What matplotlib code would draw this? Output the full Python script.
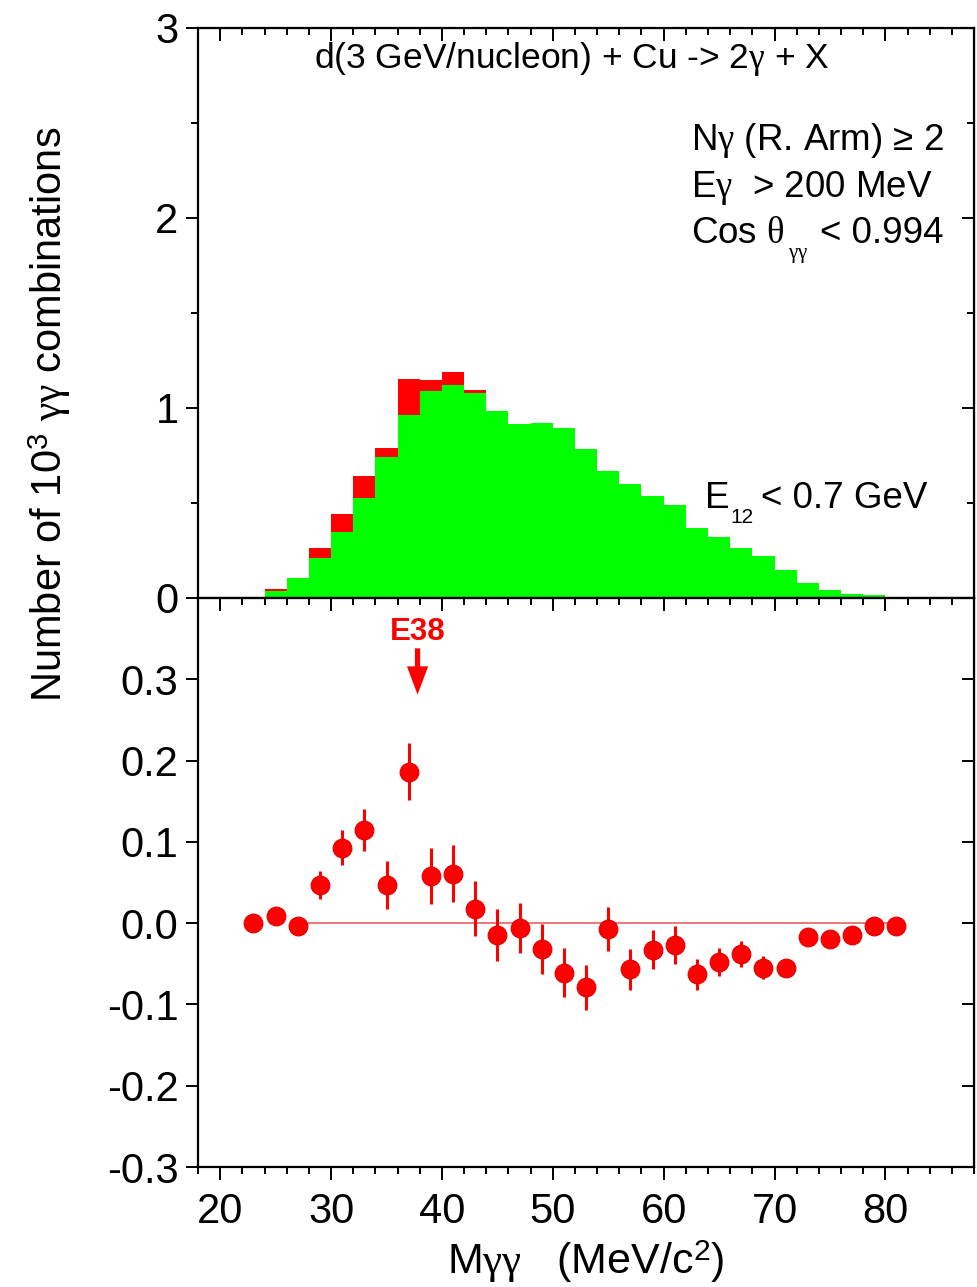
import numpy as np
import matplotlib
matplotlib.use("Agg")
import matplotlib.pyplot as plt
from matplotlib.ticker import MultipleLocator, FixedLocator

plt.rcParams['font.family'] = ['Liberation Sans', 'DejaVu Sans']
plt.rcParams['mathtext.fontset'] = 'custom'
plt.rcParams['mathtext.rm'] = 'Liberation Sans'
plt.rcParams['mathtext.it'] = 'Liberation Serif'
plt.rcParams['mathtext.bf'] = 'Liberation Sans:bold'

# mass bins (MeV/c^2), 2 MeV wide, centres at odd values
mass = np.arange(23, 83, 2)
bin_w = 2.0

# top panel, 10^3 combinations: all pairs (red) and mixed background (green)
total = [0.005, 0.047, 0.105, 0.263, 0.444, 0.644, 0.789, 1.154, 1.149, 1.188,
         1.096, 0.968, 0.908, 0.888, 0.833, 0.706, 0.659, 0.541, 0.504, 0.464,
         0.307, 0.275, 0.223, 0.168, 0.092, 0.060, 0.023, 0.005, 0.011, 0.002]
backgr = [0.002, 0.039, 0.105, 0.210, 0.347, 0.526, 0.740, 0.965, 1.088, 1.123,
          1.079, 0.982, 0.914, 0.920, 0.894, 0.785, 0.666, 0.598, 0.537, 0.491,
          0.370, 0.323, 0.261, 0.223, 0.147, 0.077, 0.042, 0.019, 0.014, 0.004]

# bottom panel: difference and its error
diff = [0.000, 0.009, -0.003, 0.047, 0.093, 0.115, 0.047, 0.186, 0.058, 0.061,
        0.018, -0.014, -0.006, -0.032, -0.061, -0.079, -0.007, -0.057, -0.033, -0.027,
        -0.063, -0.048, -0.038, -0.055, -0.055, -0.017, -0.019, -0.014, -0.003, -0.003]
diff_err = [0.006, 0.006, 0.006, 0.017, 0.022, 0.026, 0.029, 0.035, 0.035, 0.035,
            0.034, 0.032, 0.031, 0.031, 0.030, 0.028, 0.027, 0.025, 0.024, 0.023,
            0.019, 0.017, 0.016, 0.014, 0.008, 0.006, 0.006, 0.005, 0.004, 0.003]

x_ticks = [20, 30, 40, 50, 60, 70, 80]
low_yticks = [-0.3, -0.2, -0.1, 0.0, 0.1, 0.2, 0.3]
low_ylabels = ['-0.3', '-0.2', '-0.1', '0.0', '0.1', '0.2', '0.3']

TICK_FS = 30
LAB_FS = 30
TXT_FS = 26.5
SUB_FS = 15

fig = plt.figure(figsize=(9.78, 12.87), dpi=100)
ax1 = fig.add_axes([0.2025, 0.5354, 0.7935, 0.4429])
ax2 = fig.add_axes([0.2025, 0.0932, 0.7935, 0.4422])


def style(ax, ymaj, ymin, show_bottom_labels):
    for s in ax.spines.values():
        s.set_linewidth(1.6)
    ax.set_xlim(18, 88)
    ax.xaxis.set_major_locator(FixedLocator(x_ticks))
    ax.xaxis.set_minor_locator(MultipleLocator(2))
    ax.tick_params(axis='both', which='both', direction='out', top=False, right=False,
                   labelsize=TICK_FS, width=1.4)
    ax.tick_params(which='major', length=9, pad=5)
    ax.tick_params(which='minor', length=5)
    ax.tick_params(axis='x', labelbottom=show_bottom_labels, pad=9)
    top = ax.secondary_xaxis('top')
    top.xaxis.set_major_locator(FixedLocator(x_ticks))
    top.xaxis.set_minor_locator(MultipleLocator(2))
    top.tick_params(which='both', direction='in', labeltop=False, width=1.4)
    top.tick_params(which='major', length=9)
    top.tick_params(which='minor', length=5)
    right = ax.secondary_yaxis('right')
    right.yaxis.set_major_locator(ymaj)
    if ymin is not None:
        right.yaxis.set_minor_locator(ymin)
    right.tick_params(which='both', direction='in', labelright=False, width=1.4)
    right.tick_params(which='major', length=9)
    right.tick_params(which='minor', length=5)


# ---- top panel
ax1.bar(mass, total, width=bin_w, color='#ff0000', linewidth=0)
ax1.bar(mass, backgr, width=bin_w, color='#00ff00', linewidth=0)
ax1.set_ylim(0, 3)
ax1.yaxis.set_major_locator(MultipleLocator(1))
ax1.yaxis.set_minor_locator(MultipleLocator(0.5))
style(ax1, MultipleLocator(1), MultipleLocator(0.5), False)

ax1.text(51.7, 2.835, r'd(3 GeV/nucleon) + Cu -> 2$\gamma$ + X', fontsize=25.5,
         ha='center', va='center')
ax1.text(62.5, 2.358, 'N$\\gamma$ (R. Arm) \u2265 2', fontsize=TXT_FS,
         ha='left', va='baseline')
ax1.text(62.5, 2.112, r'E$\gamma$  > 200 MeV', fontsize=TXT_FS, ha='left', va='baseline')
# Origin-style low subscripts, placed as separate pieces
ax1.text(62.5, 1.867, r'Cos $\theta$', fontsize=TXT_FS, ha='left', va='baseline')
ax1.text(71.2, 1.79, r'$\gamma\gamma$', fontsize=SUB_FS, ha='left', va='baseline')
ax1.text(74.1, 1.867, '< 0.994', fontsize=TXT_FS, ha='left', va='baseline')

ax1.text(63.7, 0.472, 'E', fontsize=TXT_FS, ha='left', va='baseline')
ax1.text(66.0, 0.396, '12', fontsize=SUB_FS, ha='left', va='baseline')
ax1.text(68.8, 0.472, '< 0.7 GeV', fontsize=TXT_FS, ha='left', va='baseline')

# ---- bottom panel
ax2.plot([27, 81], [0, 0], color='#e86060', lw=1.2, zorder=1)
ax2.errorbar(mass, diff, yerr=diff_err, fmt='o', color='#ff0000', ms=13.5,
             mec='#e00000', mew=0.8, elinewidth=2.2, capsize=0, zorder=3)
ax2.set_ylim(-0.3, 0.4)
ax2.yaxis.set_major_locator(FixedLocator(low_yticks))
ax2.set_yticklabels(low_ylabels)
style(ax2, FixedLocator(low_yticks), None, True)

ax2.text(37.8, 0.3585, 'E38', color='#ff0000', fontsize=22.5, fontweight='bold',
         ha='center', va='center')
ax2.annotate('', xy=(37.8, 0.281), xytext=(37.8, 0.338),
             arrowprops=dict(arrowstyle='simple,head_width=0.9,head_length=1.2,tail_width=0.22',
                             mutation_scale=17, color='#ff0000', lw=0,
                             shrinkA=0, shrinkB=0))

fig.text(586 / 978, 1 - 1262 / 1287, r'M$\gamma\gamma$   (MeV/c$^2$)', fontsize=LAB_FS + 1,
         ha='center', va='center')
fig.text(50 / 978, 1 - 414 / 1287, r'Number of 10$^3$ $\gamma\gamma$ combinations',
         fontsize=LAB_FS, rotation=90, ha='center', va='center')

fig.savefig('out.png', dpi=100)
